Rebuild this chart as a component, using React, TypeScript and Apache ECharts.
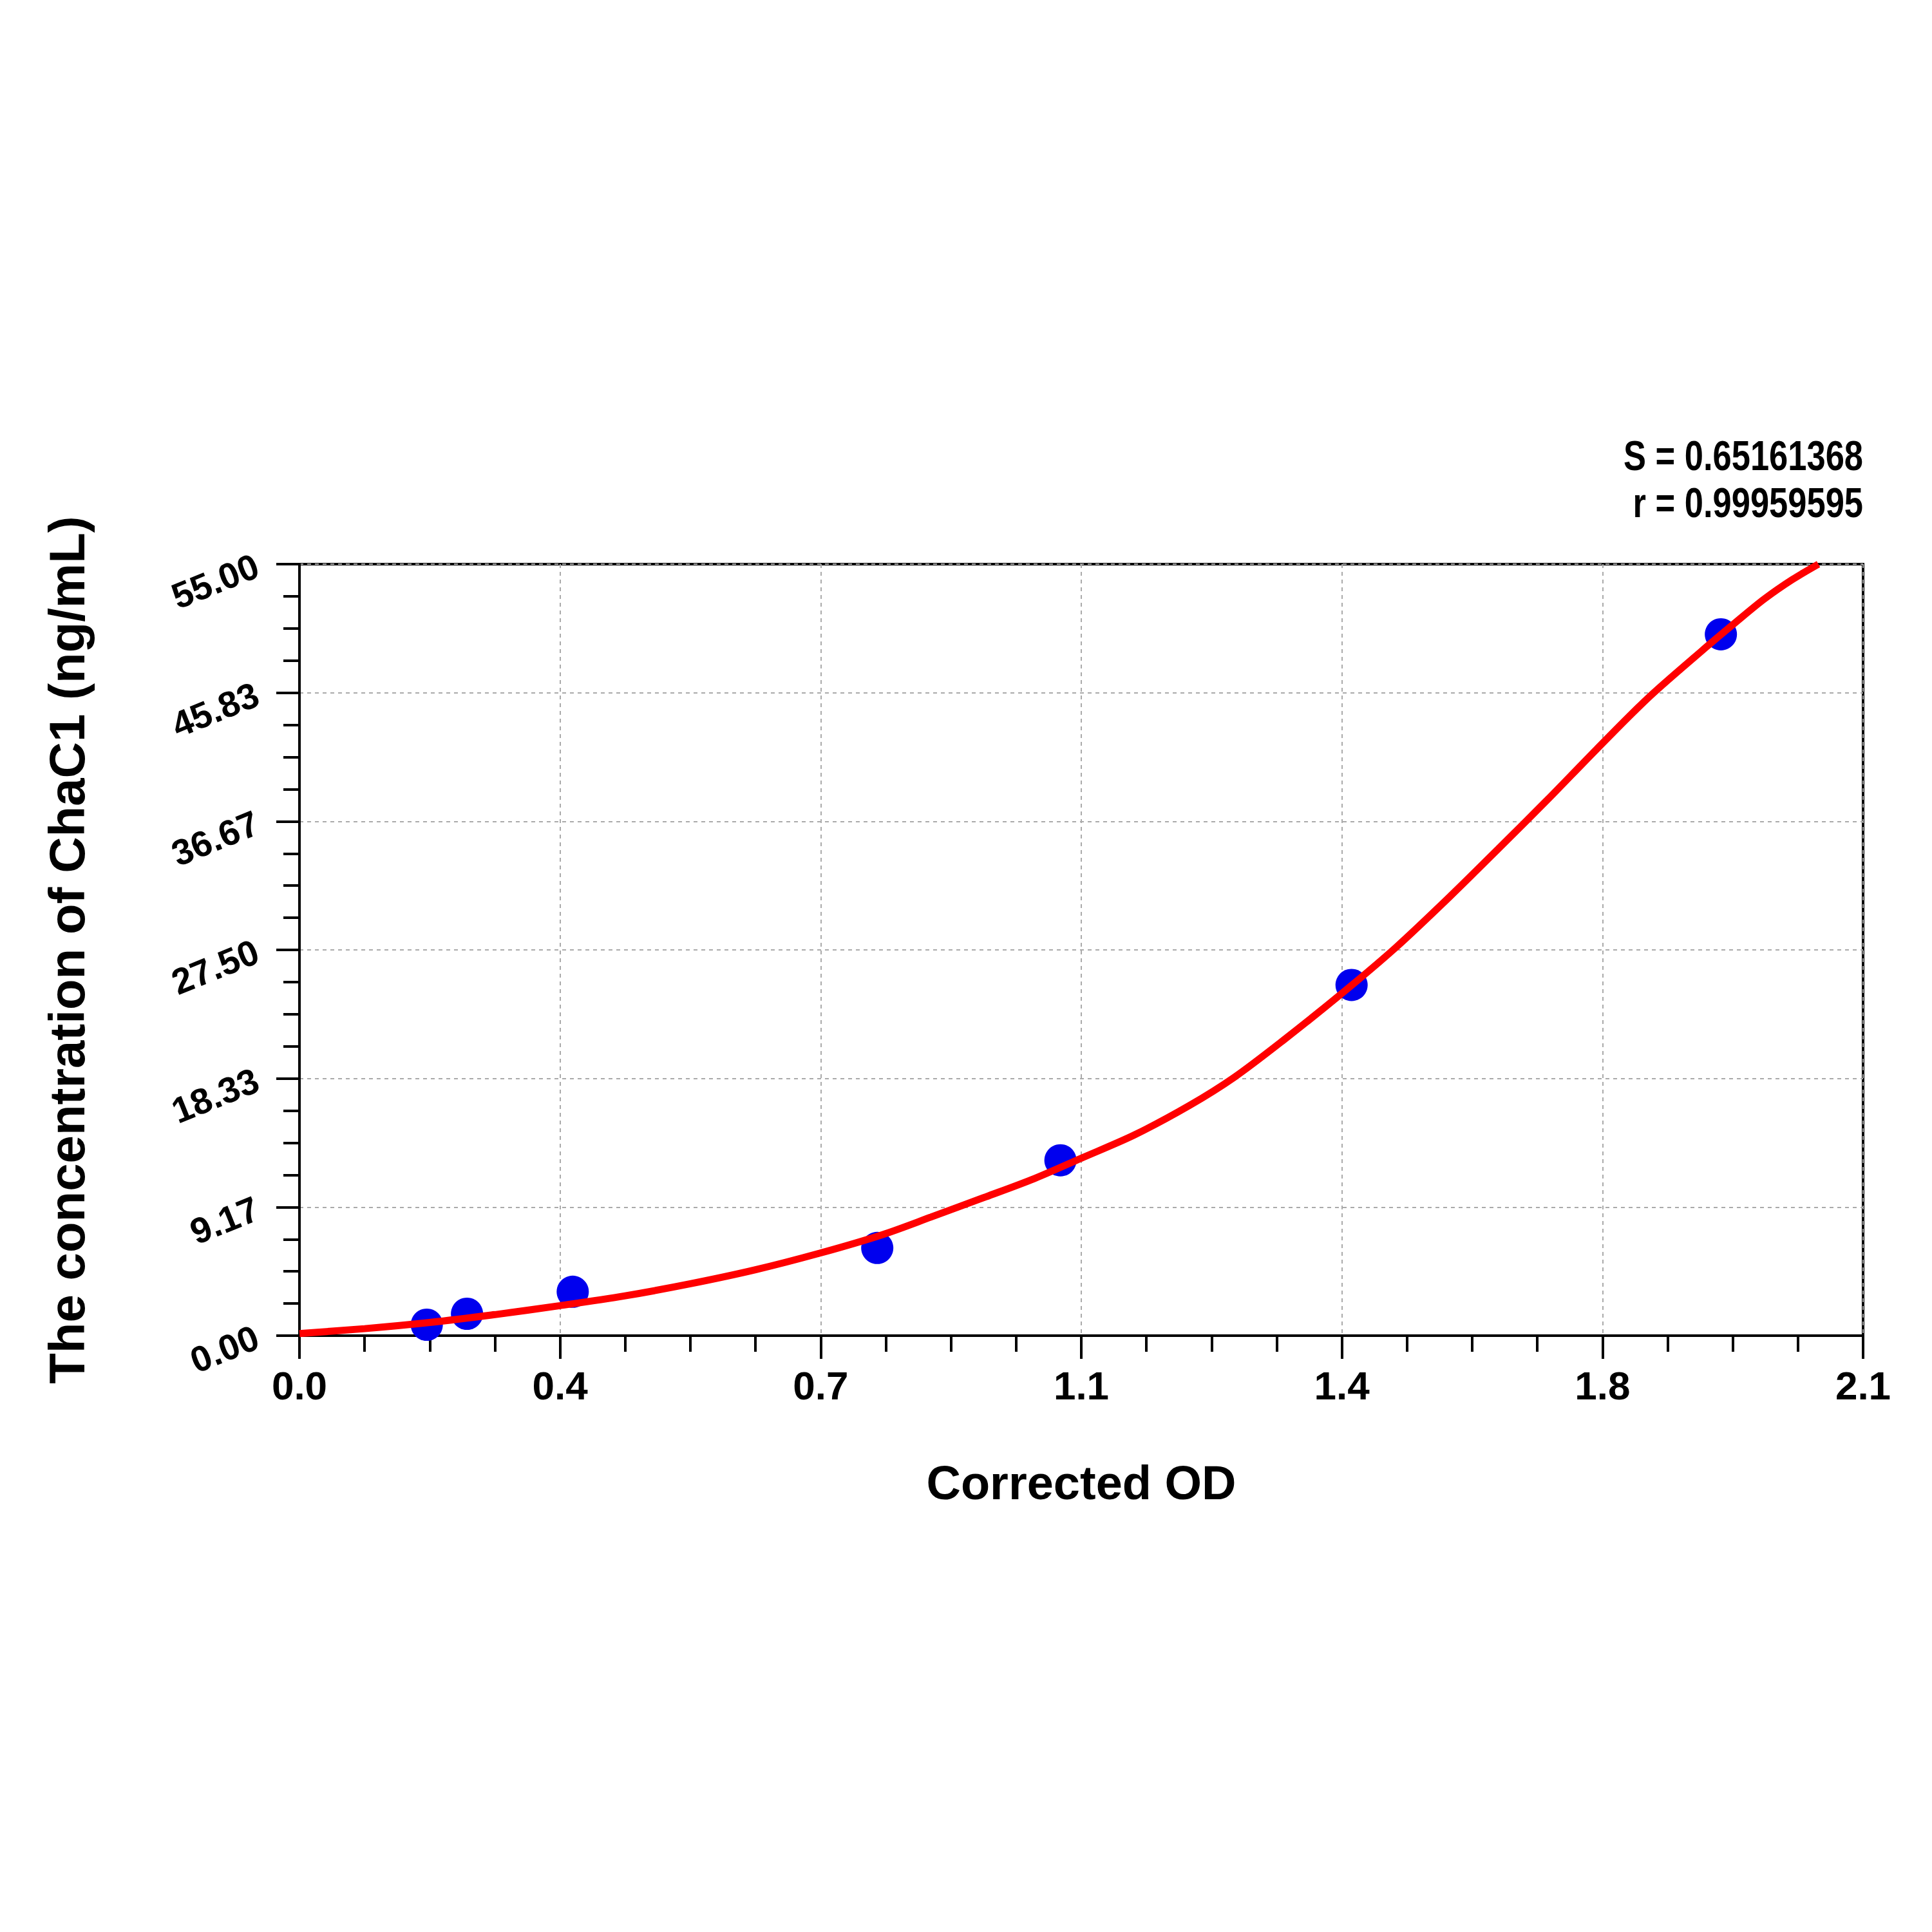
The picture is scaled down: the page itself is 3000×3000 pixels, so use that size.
import {useEffect, useRef} from 'react';
import * as echarts from 'echarts';

// standard points (corrected OD vs concentration)
const standardOD = [0.171, 0.225, 0.367, 0.776, 1.022, 1.413, 1.909];
const standardConc = [0.78, 1.56, 3.13, 6.25, 12.5, 25, 50];

// fitted curve
const curveOD = [0, 0.0875, 0.175, 0.2625, 0.35, 0.4375, 0.525, 0.6125, 0.7, 0.783, 0.848, 0.922, 0.987, 1.05, 1.121, 1.195, 1.255, 1.32, 1.4, 1.472, 1.545, 1.61, 1.676, 1.742, 1.812, 1.883, 1.93, 1.967, 2.005, 2.04];
const curveConc = [0.15, 0.5, 0.94, 1.5, 2.14, 2.84, 3.7, 4.7, 5.9, 7.2, 8.45, 9.9, 11.2, 12.65, 14.3, 16.4, 18.4, 21.0, 24.4, 27.65, 31.3, 34.7, 38.2, 41.8, 45.5, 48.8, 50.9, 52.5, 53.9, 55.0];

const xTickLabels = ['0.0', '0.4', '0.7', '1.1', '1.4', '1.8', '2.1'];
const yTickLabels = ['0.00', '9.17', '18.33', '27.50', '36.67', '45.83', '55.00'];
const fitStats = ['S = 0.65161368', 'r = 0.99959595'];

const xStep = 0.35;
const yStep = 55 / 6;
const FONT = "'Liberation Sans', Arial, sans-serif";

const GRID = {left: 465, right: 107, top: 876, bottom: 926};

export default function App() {
    const ref = useRef<HTMLDivElement>(null);

    useEffect(() => {
        if (!ref.current) return;
        const chart = echarts.init(ref.current, null, {renderer: 'svg'});
        const rightEdge = 3000 - GRID.right;
        chart.setOption({
            animation: false,
            backgroundColor: '#fff',
            grid: {...GRID, show: true, borderColor: '#000', borderWidth: 4},
            xAxis: {
                type: 'value', min: 0, max: 2.1, interval: xStep,
                name: 'Corrected OD', nameLocation: 'middle', nameGap: 191,
                nameTextStyle: {fontSize: 74, fontWeight: 'bold', color: '#000', fontFamily: FONT},
                axisLine: {show: true, lineStyle: {color: '#000', width: 4}},
                axisTick: {show: true, length: 36, lineStyle: {color: '#000', width: 4}},
                minorTick: {show: true, splitNumber: 4, length: 25, lineStyle: {color: '#000', width: 4}},
                axisLabel: {
                    margin: 46, fontSize: 62, fontWeight: 'bold', color: '#000', fontFamily: FONT,
                    formatter: (v: number) => xTickLabels[Math.round(v / xStep)] ?? ''
                },
                splitLine: {show: true, lineStyle: {color: '#aaa', width: 2, type: [6, 6]}}
            },
            yAxis: {
                type: 'value', min: 0, max: 55, interval: yStep,
                name: 'The concentration of ChaC1 (ng/mL)', nameLocation: 'middle', nameGap: 322,
                nameTextStyle: {fontSize: 78, fontWeight: 'bold', color: '#000', fontFamily: FONT},
                axisLine: {show: true, lineStyle: {color: '#000', width: 4}},
                axisTick: {show: true, length: 36, lineStyle: {color: '#000', width: 4}},
                minorTick: {show: true, splitNumber: 4, length: 25, lineStyle: {color: '#000', width: 4}},
                axisLabel: {
                    margin: 66, rotate: 22, fontSize: 56, fontWeight: 'bold', color: '#000', fontFamily: FONT,
                    formatter: (v: number) => yTickLabels[Math.round(v / yStep)] ?? ''
                },
                splitLine: {show: true, lineStyle: {color: '#aaa', width: 2, type: [6, 6]}}
            },
            graphic: fitStats.map((t, i) => ({
                type: 'text', x: rightEdge, y: 708 + i * 73, scaleX: 0.82,
                style: {
                    text: t, fontSize: 64, fontWeight: 'bold', fill: '#000', fontFamily: FONT,
                    textAlign: 'right', textVerticalAlign: 'middle'
                }
            })),
            series: [
                {
                    type: 'scatter', z: 2,
                    data: standardOD.map((x, i) => [x, standardConc[i]]),
                    symbol: 'circle', symbolSize: 50,
                    itemStyle: {color: '#0000ee', opacity: 1}
                },
                {
                    type: 'line', z: 3, smooth: 0.3, showSymbol: false,
                    data: curveOD.map((x, i) => [x, curveConc[i]]),
                    lineStyle: {color: '#ff0000', width: 11}
                }
            ]
        });
        return () => chart.dispose();
    }, []);

    return <div ref={ref} style={{position: 'absolute', left: 0, top: 0, width: 3000, height: 3000}}/>;
}
